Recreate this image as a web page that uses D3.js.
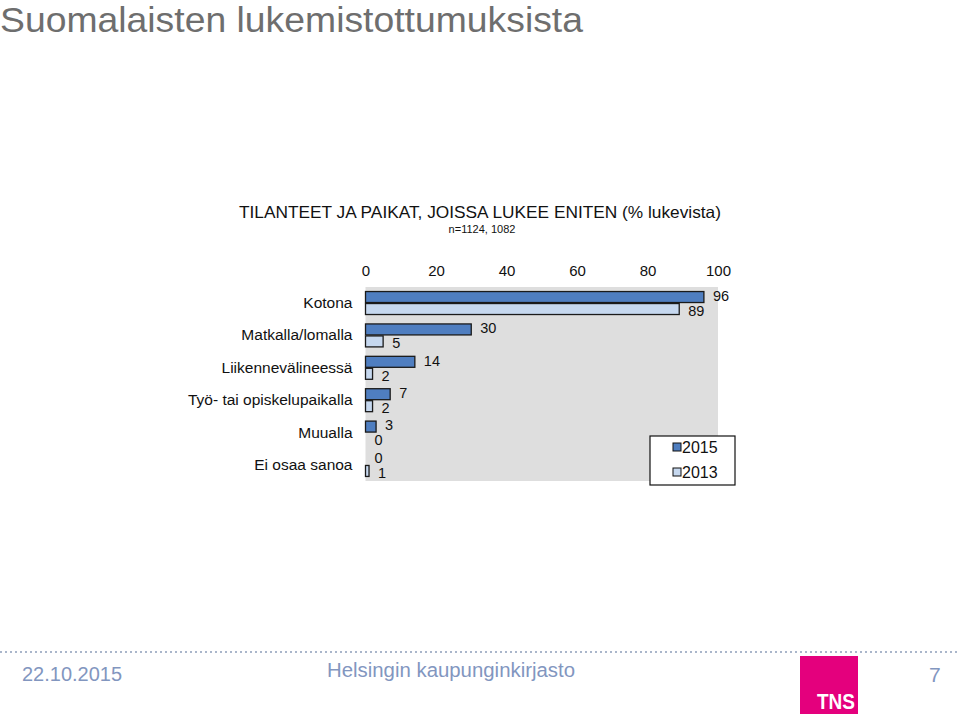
<!DOCTYPE html>
<html>
<head>
<meta charset="utf-8">
<script src="https://cdn.jsdelivr.net/npm/d3@7"></script>
<style>
  html, body { margin: 0; padding: 0; background: #fff; }
  svg { display: block; }
  text { font-family: "Liberation Sans", Arial, sans-serif; }
</style>
</head>
<body>
<svg id="chart" width="960" height="716"></svg>
<script>
const categories = ["Kotona", "Matkalla/lomalla", "Liikennevälineessä", "Työ- tai opiskelupaikalla", "Muualla", "Ei osaa sanoa"];
const seriesNames = ["2015", "2013"];
const values2015 = [96, 30, 14, 7, 3, 0];
const values2013 = [89, 5, 2, 2, 0, 1];
const xTicks = [0, 20, 40, 60, 80, 100];
const seriesColors = ["#4f7ec0", "#c6d8ef"];

const svg = d3.select("#chart");

// Page title
svg.append("text").attr("x", 0).attr("y", 32)
  .attr("font-size", 35).attr("fill", "#6e6e6e")
  .attr("textLength", 583).attr("lengthAdjust", "spacingAndGlyphs")
  .text("Suomalaisten lukemistottumuksista");

// Chart title
svg.append("text").attr("x", 480).attr("y", 218).attr("text-anchor", "middle")
  .attr("font-size", 16.5).attr("fill", "#111")
  .attr("textLength", 482).attr("lengthAdjust", "spacingAndGlyphs")
  .text("TILANTEET JA PAIKAT, JOISSA LUKEE ENITEN (% lukevista)");
svg.append("text").attr("x", 482).attr("y", 233).attr("text-anchor", "middle")
  .attr("font-size", 11).attr("fill", "#111")
  .text("n=1124, 1082");

const x = d3.scaleLinear().domain([0, 100]).range([365.5, 718]);
const y = d3.scaleBand().domain(categories).range([287, 481]).paddingInner(0.26).paddingOuter(0.125);
const ySub = d3.scaleBand().domain(seriesNames).range([0, y.bandwidth()]);

// plot background
svg.append("rect").attr("x", x(0)).attr("y", 287).attr("width", x(100) - x(0)).attr("height", 481 - 287)
  .attr("fill", "#dedede");

// top axis
const xAxis = d3.axisTop(x).tickValues(xTicks).tickSize(0).tickPadding(0);
const gx = svg.append("g").attr("transform", "translate(0,276)").call(xAxis);
gx.select(".domain").remove();
gx.selectAll("text").attr("font-size", 15).attr("fill", "#111").attr("font-family", "Liberation Sans, Arial, sans-serif").attr("dy", 0);

// y axis labels
const yAxis = d3.axisLeft(y).tickSize(0).tickPadding(13);
const gy = svg.append("g").attr("transform", `translate(${x(0)},0)`).call(yAxis);
gy.select(".domain").remove();
gy.selectAll("text").attr("font-size", 15.5).attr("fill", "#111").attr("font-family", "Liberation Sans, Arial, sans-serif");

const data = categories.map((c, i) => ({ cat: c, vals: [
  { s: "2015", v: values2015[i], color: seriesColors[0], off: -1.5 },
  { s: "2013", v: values2013[i], color: seriesColors[1], off: 1.5 }
]}));

const groups = svg.append("g").selectAll("g").data(data).join("g")
  .attr("transform", d => `translate(0,${y(d.cat)})`);

groups.selectAll("rect").data(d => d.vals).join("rect")
  .attr("x", x(0))
  .attr("y", d => ySub(d.s) + 0.5)
  .attr("width", d => x(d.v) - x(0))
  .attr("height", ySub.bandwidth() - 1)
  .attr("fill", d => d.color)
  .attr("stroke", "#1a1a1a").attr("stroke-width", 1.3);

groups.selectAll("text").data(d => d.vals).join("text")
  .attr("x", d => x(d.v) + 9)
  .attr("y", d => ySub(d.s) + ySub.bandwidth() / 2 + d.off)
  .attr("dy", "0.36em")
  .attr("font-size", 14.5).attr("fill", "#111")
  .text(d => d.v);

// legend
const lg = svg.append("g").attr("transform", "translate(650,436)");
lg.append("rect").attr("x", 0).attr("y", 0).attr("width", 85).attr("height", 49)
  .attr("fill", "#fff").attr("stroke", "#111").attr("stroke-width", 1.2);
seriesNames.forEach((s, i) => {
  const yy = 11 + i * 25;
  lg.append("rect").attr("x", 23).attr("y", yy - 4).attr("width", 8).attr("height", 8)
    .attr("fill", seriesColors[i]).attr("stroke", "#111").attr("stroke-width", 1);
  lg.append("text").attr("x", 32).attr("y", yy).attr("dy", "0.36em")
    .attr("font-size", 16).attr("fill", "#111").text(s);
});

// footer
svg.append("line").attr("x1", 0).attr("x2", 960).attr("y1", 652).attr("y2", 652)
  .attr("stroke", "#aab6cb").attr("stroke-width", 2).attr("stroke-dasharray", "2,3");
svg.append("text").attr("x", 22).attr("y", 681).attr("font-size", 20).attr("fill", "#8296bf")
  .attr("textLength", 100).attr("lengthAdjust", "spacingAndGlyphs").text("22.10.2015");
svg.append("text").attr("x", 327).attr("y", 677).attr("font-size", 20).attr("fill", "#8296bf")
  .attr("textLength", 248).attr("lengthAdjust", "spacingAndGlyphs").text("Helsingin kaupunginkirjasto");
svg.append("text").attr("x", 929).attr("y", 682).attr("font-size", 21).attr("fill", "#8296bf").text("7");
svg.append("rect").attr("x", 800).attr("y", 656).attr("width", 58).attr("height", 58).attr("fill", "#e4007d");
svg.append("text").attr("x", 855).attr("y", 709).attr("text-anchor", "end")
  .attr("font-size", 22).attr("font-weight", "bold").attr("fill", "#fff")
  .attr("textLength", 38).attr("lengthAdjust", "spacingAndGlyphs").text("TNS");
</script>
</body>
</html>
